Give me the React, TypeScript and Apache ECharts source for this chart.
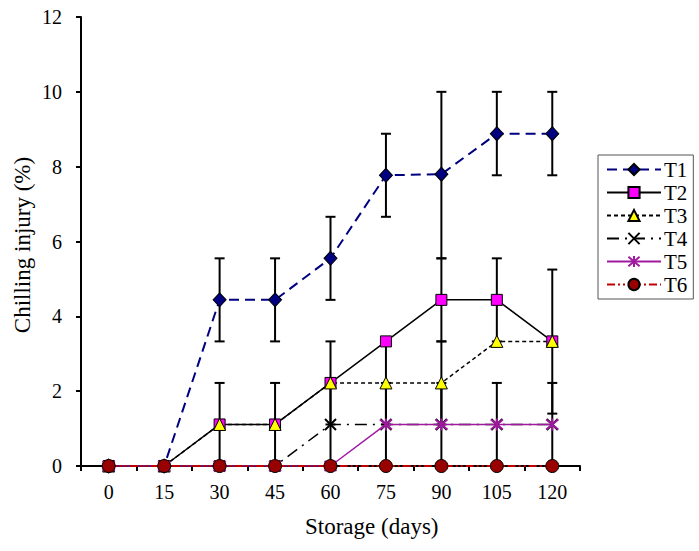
import React, { useEffect, useRef } from "react";
import * as echarts from "echarts";

const days = ["0", "15", "30", "45", "60", "75", "90", "105", "120"];
const yTicks = [0, 2, 4, 6, 8, 10, 12];

const t1 = [0, 0, 4.44, 4.44, 5.55, 7.77, 7.8, 8.88, 8.88];
const t2 = [0, 0, 1.11, 1.11, 2.22, 3.33, 4.44, 4.44, 3.33];
const t3 = [0, 0, 1.11, 1.11, 2.22, 2.22, 2.22, 3.33, 3.33];
const t4 = [0, 0, 0, 0, 1.11, 1.11, 1.11, 1.11, 1.11];
const t5 = [0, 0, 0, 0, 0, 1.11, 1.11, 1.11, 1.11];
const t6 = [0, 0, 0, 0, 0, 0, 0, 0, 0];

// error bar extents (null = no bar drawn)
const t1Low = [null, null, 3.33, 3.33, 4.44, 6.66, 5.55, 7.77, 7.77];
const t1High = [null, null, 5.55, 5.55, 6.66, 8.88, 10, 10, 10];
const t2Low = [null, null, 0, 0, 1.11, null, 3.33, 3.33, 1.4];
const t2High = [null, null, 2.22, 2.22, 3.33, null, 5.55, 5.55, 5.25];
const t3Low = [null, null, null, null, null, 1.11, 1.11, null, null];
const t3High = [null, null, null, null, null, 3.33, 3.33, null, null];
const t4Low = [null, null, null, null, 0, null, null, null, null];
const t4High = [null, null, null, null, 2.22, null, null, null, null];
const t5Low = [null, null, null, null, null, 0, 0, 0, 0];
const t5High = [null, null, null, null, null, 2.22, 2.22, 2.22, 2.22];

const FONT = "Liberation Serif, Times New Roman, serif";

function errData(lo: (number | null)[], hi: (number | null)[]) {
  const out: number[][] = [];
  lo.forEach((l, i) => {
    const h = hi[i];
    if (l !== null && h !== null) out.push([i, l, h]);
  });
  return out;
}

function errSeries(lo: (number | null)[], hi: (number | null)[]) {
  return {
    type: "custom",
    z: 1,
    silent: true,
    data: errData(lo, hi),
    encode: { x: 0, y: [1, 2] },
    renderItem: (params: any, api: any) => {
      const x = api.value(0);
      const pLo = api.coord([x, api.value(1)]);
      const pHi = api.coord([x, api.value(2)]);
      const w = 5;
      const st = { stroke: "#000", lineWidth: 2 };
      return {
        type: "group",
        children: [
          { type: "line", shape: { x1: pLo[0], y1: pLo[1], x2: pHi[0], y2: pHi[1] }, style: st },
          { type: "line", shape: { x1: pLo[0] - w, y1: pLo[1], x2: pLo[0] + w, y2: pLo[1] }, style: st },
          { type: "line", shape: { x1: pHi[0] - w, y1: pHi[1], x2: pHi[0] + w, y2: pHi[1] }, style: st },
        ],
      };
    },
  };
}

export default function App() {
  const ref = useRef<HTMLDivElement>(null);
  useEffect(() => {
    if (!ref.current) return;
    const chart = echarts.init(ref.current, null, { renderer: "svg" });
    const option: any = {
      animation: false,
      backgroundColor: "#fff",
      textStyle: { fontFamily: FONT },
      grid: { left: 81, top: 17, width: 499, height: 449, containLabel: false },
      xAxis: {
        type: "category",
        data: days,
        boundaryGap: true,
        axisLine: { lineStyle: { color: "#000", width: 2 } },
        axisTick: { show: true, length: 5, lineStyle: { color: "#000", width: 2 } },
        axisLabel: { color: "#000", fontFamily: FONT, fontSize: 20, margin: 16 },
        splitLine: { show: false },
      },
      yAxis: {
        type: "value",
        min: yTicks[0],
        max: yTicks[yTicks.length - 1],
        interval: 2,
        axisLine: { show: true, lineStyle: { color: "#000", width: 2 } },
        axisTick: { show: true, length: 5, lineStyle: { color: "#000", width: 2 } },
        axisLabel: { color: "#000", fontFamily: FONT, fontSize: 20, margin: 19 },
        splitLine: { show: false },
      },
      legend: {
        orient: "vertical",
        left: 598,
        top: 155,
        data: ["T1", "T2", "T3", "T4", "T5", "T6"],
        itemWidth: 54,
        itemHeight: 14,
        itemGap: 2,
        padding: [4, 6, 4, 8],
        borderColor: "#555",
        borderWidth: 1,
        textStyle: { color: "#000", fontFamily: FONT, fontSize: 21, lineHeight: 20, padding: [0, 0, 0, -2] },
      },
      graphic: [
        {
          type: "text",
          left: 305,
          top: 515,
          style: { text: "Storage (days)", fontFamily: FONT, fontSize: 23, fill: "#000" },
        },
        {
          type: "text",
          x: 22,
          y: 245,
          rotation: Math.PI / 2,
          style: {
            text: "Chilling injury (%)",
            fontFamily: FONT,
            fontSize: 23,
            fill: "#000",
            align: "center",
            verticalAlign: "middle",
          },
        },
      ],
      series: [
        errSeries(t1Low, t1High),
        errSeries(t2Low, t2High),
        errSeries(t3Low, t3High),
        errSeries(t4Low, t4High),
        errSeries(t5Low, t5High),
        {
          name: "T1",
          type: "line",
          data: t1,
          symbol: "diamond",
          symbolSize: [13, 14],
          lineStyle: { color: "#000080", width: 2, type: [10, 6] },
          itemStyle: { color: "#000080", borderColor: "#000", borderWidth: 1 },
        },
        {
          name: "T2",
          type: "line",
          data: t2,
          symbol: "rect",
          symbolSize: 11,
          lineStyle: { color: "#000", width: 1.5, type: "solid" },
          itemStyle: { color: "#ff00ff", borderColor: "#000", borderWidth: 1 },
        },
        {
          name: "T3",
          type: "line",
          data: t3,
          symbol: "triangle",
          symbolSize: 12,
          lineStyle: { color: "#000", width: 1.5, type: [4, 3] },
          itemStyle: { color: "#ffff00", borderColor: "#000", borderWidth: 1 },
        },
        {
          name: "T4",
          type: "line",
          data: t4,
          symbol: "path://M0,0L10,10M10,0L0,10",
          symbolSize: 11,
          lineStyle: { color: "#000", width: 1.5, type: [12, 6, 2, 6] },
          itemStyle: { color: "#000", borderColor: "#000", borderWidth: 2 },
        },
        {
          name: "T5",
          type: "line",
          data: t5,
          symbol: "path://M0,0L10,10M10,0L0,10M5,-1L5,11",
          symbolSize: 12,
          lineStyle: { color: "#a01aa0", width: 1.5, type: "solid" },
          itemStyle: { color: "#a01aa0", borderColor: "#a01aa0", borderWidth: 2 },
        },
        {
          name: "T6",
          type: "line",
          data: t6,
          symbol: "circle",
          symbolSize: 13,
          lineStyle: { color: "#c00000", width: 2, type: [8, 3, 2, 3, 2, 3] },
          itemStyle: { color: "#990000", borderColor: "#000", borderWidth: 1 },
        },
      ],
    };
    chart.setOption(option);
    return () => chart.dispose();
  }, []);
  return (
    <div
      ref={ref}
      style={{ position: "fixed", left: 0, top: 0, width: 699, height: 551, background: "#fff" }}
    />
  );
}
